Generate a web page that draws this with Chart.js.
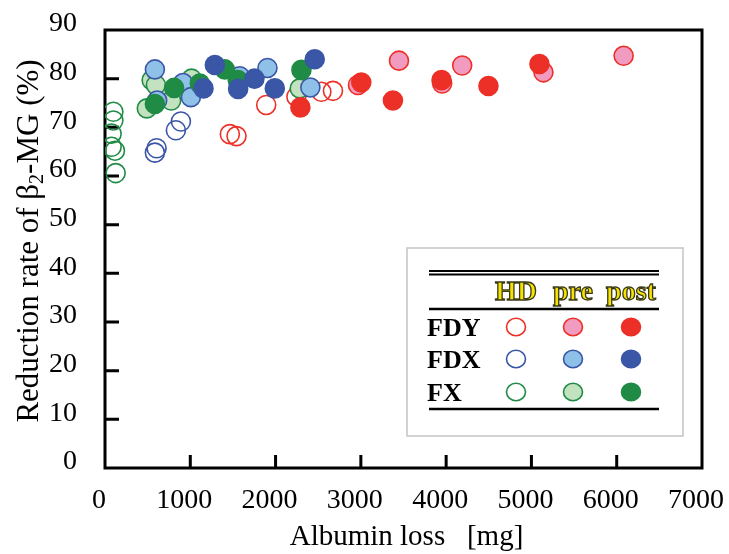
<!DOCTYPE html>
<html><head><meta charset="utf-8">
<script src="https://cdn.jsdelivr.net/npm/chart.js@4.4.1/dist/chart.umd.min.js"></script>
<style>html,body{margin:0;padding:0;background:#fff;}</style>
</head><body>
<canvas id="c" width="729" height="554"></canvas>
<script>
// ---- data ----
const xTickValues = [0,1000,2000,3000,4000,5000,6000,7000];
const yTickValues = [0,10,20,30,40,50,60,70,80,90];
const xTitle = 'Albumin loss   [mg]';
const yTitleParts = ['Reduction rate of \u03B2', '2', '-MG (%)'];
const legendHeader = ['HD','pre','post'];
const legendRows = ['FDY','FDX','FX'];

const fdyHD  = [{x:1890,y:74.6},{x:1464,y:68.6},{x:1542,y:68.2},{x:2244,y:76.3},{x:2537,y:77.3},{x:2673,y:77.5}];
const fdyPre = [{x:2966,y:78.7},{x:3447,y:83.7},{x:3953,y:79.0},{x:4188,y:82.7},{x:5141,y:81.3},{x:6081,y:84.7}];
const fdyPost= [{x:2291,y:74.1},{x:3005,y:79.2},{x:3376,y:75.5},{x:3946,y:79.7},{x:4496,y:78.5},{x:5094,y:83.0}];
const fdxHD  = [{x:890,y:71.2},{x:831,y:69.4},{x:605,y:65.7},{x:585,y:64.8}];
const fdxPre = [{x:585,y:81.9},{x:915,y:79.1},{x:1007,y:76.2},{x:1905,y:82.2},{x:2408,y:78.2},{x:1580,y:80.5},{x:612,y:75.5}];
const fdxPost= [{x:1288,y:82.8},{x:1155,y:78.0},{x:1561,y:77.9},{x:1752,y:80.0},{x:1991,y:78.0},{x:2459,y:84.0}];
const fxHD   = [{x:98,y:73.2},{x:98,y:71.4},{x:78,y:68.7},{x:78,y:66.0},{x:117,y:65.2},{x:125,y:60.6}];
const fxPre  = [{x:547,y:79.7},{x:597,y:78.7},{x:1015,y:80.0},{x:490,y:73.9},{x:776,y:75.5},{x:2283,y:78.0}];
const fxPost = [{x:810,y:78.1},{x:1112,y:79.0},{x:585,y:74.8},{x:1405,y:81.9},{x:2303,y:81.8},{x:1557,y:79.7}];

// ---- colours ----
const RED='#ec3027', PINK='#f29bc1', BLUE='#3a56a6', LBLUE='#8ec0e8', GREEN='#1f8b45', LGREEN='#c3e2bf';
const NONE='rgba(255,255,255,0)';

function ds(label,data,fill,border){
  return {label,data,backgroundColor:fill,borderColor:border,pointRadius:9.5,pointHoverRadius:9.5,pointBorderWidth:1.6,borderWidth:1.6};
}
// first dataset is drawn on top
const datasets = [
  ds('FDY post',fdyPost,RED,RED),
  ds('FDX post',fdxPost,BLUE,BLUE),
  ds('FX post',fxPost,GREEN,GREEN),
  ds('FDY pre',fdyPre,PINK,RED),
  ds('FDX pre',fdxPre,LBLUE,BLUE),
  ds('FX pre',fxPre,LGREEN,GREEN),
  ds('FDY HD',fdyHD,NONE,RED),
  ds('FDX HD',fdxHD,NONE,BLUE),
  ds('FX HD',fxHD,NONE,GREEN)
];
const legendMarks = [
  [[NONE,RED],[PINK,RED],[RED,RED]],
  [[NONE,BLUE],[LBLUE,BLUE],[BLUE,BLUE]],
  [[NONE,GREEN],[LGREEN,GREEN],[GREEN,GREEN]]
];

const SERIF = '"Liberation Serif","Times New Roman",serif';

const decor = {
  id:'decor',
  beforeDatasetsDraw(chart){
    const {ctx, chartArea:a, scales:{x,y}} = chart;
    ctx.save();
    ctx.strokeStyle='#000'; ctx.lineWidth=3;
    ctx.strokeRect(a.left,a.top,a.right-a.left,a.bottom-a.top);
    ctx.beginPath();
    xTickValues.forEach(v=>{ if(v>x.min && v<x.max){const p=x.getPixelForValue(v); ctx.moveTo(p,a.bottom); ctx.lineTo(p,a.bottom-13);} });
    yTickValues.forEach(v=>{ if(v>y.min && v<y.max){const p=y.getPixelForValue(v); ctx.moveTo(a.left,p); ctx.lineTo(a.left+14,p);} });
    ctx.stroke();
    // axis titles
    ctx.fillStyle='#000';
    ctx.font='29px '+SERIF;
    ctx.textAlign='center'; ctx.textBaseline='middle';
    ctx.fillText(xTitle,(a.left+a.right)/2+3,537);
    // y title with subscript
    ctx.translate(30,(a.top+a.bottom)/2-8);
    ctx.rotate(-Math.PI/2);
    ctx.textAlign='left'; ctx.textBaseline='middle';
    const big='31px '+SERIF, small='20px '+SERIF;
    ctx.font=big; const w0=ctx.measureText(yTitleParts[0]).width, w2=ctx.measureText(yTitleParts[2]).width;
    ctx.font=small; const w1=ctx.measureText(yTitleParts[1]).width;
    let sx=-(w0+w1+w2)/2;
    ctx.font=big; ctx.fillText(yTitleParts[0],sx,0); sx+=w0;
    ctx.font=small; ctx.fillText(yTitleParts[1],sx,8); sx+=w1;
    ctx.font=big; ctx.fillText(yTitleParts[2],sx,0);
    ctx.restore();
  },
  afterDatasetsDraw(chart){
    const ctx=chart.ctx;
    ctx.save();
    // box
    ctx.fillStyle='#fff'; ctx.fillRect(407,248,276,188);
    ctx.strokeStyle='#c4c4c4'; ctx.lineWidth=1.5; ctx.strokeRect(407,248,276,188);
    // rules
    ctx.strokeStyle='#000';
    ctx.lineWidth=2;
    [271,274.5].forEach(yy=>{ctx.beginPath();ctx.moveTo(429,yy);ctx.lineTo(659,yy);ctx.stroke();});
    ctx.lineWidth=2.5;
    [309,409].forEach(yy=>{ctx.beginPath();ctx.moveTo(429,yy);ctx.lineTo(659,yy);ctx.stroke();});
    // header
    const colX=[516,573,631];
    ctx.font='bold 28px '+SERIF; ctx.textAlign='center'; ctx.textBaseline='alphabetic';
    ctx.lineWidth=1.3; ctx.strokeStyle='#3a3a1a'; ctx.fillStyle='#f6e400';
    legendHeader.forEach((t,i)=>{ctx.fillText(t,colX[i],300); ctx.strokeText(t,colX[i],300);});
    // rows
    const rowY=[327,359,392];
    ctx.font='bold 26px '+SERIF; ctx.textAlign='left'; ctx.fillStyle='#000';
    legendRows.forEach((t,i)=>{ctx.fillText(t,427,rowY[i]+9);});
    legendMarks.forEach((row,i)=>row.forEach(([f,b],j)=>{
      ctx.beginPath(); ctx.ellipse(colX[j],rowY[i],9.5,8.7,0,0,Math.PI*2);
      ctx.fillStyle=f==NONE?'#fff':f; ctx.fill();
      ctx.lineWidth=1.6; ctx.strokeStyle=b; ctx.stroke();
    }));
    ctx.restore();
  }
};

new Chart(document.getElementById('c'),{
  type:'scatter',
  data:{datasets},
  options:{
    responsive:false, animation:false,
    layout:{padding:{left:0,top:30,right:27,bottom:0}},
    plugins:{legend:{display:false},tooltip:{enabled:false}},
    scales:{
      x:{type:'linear',min:0,max:7000,
        afterBuildTicks(s){s.ticks=xTickValues.map(v=>({value:v}));},
        afterFit(s){s.height=86; s.paddingLeft=0; s.paddingRight=0;},
        grid:{display:false},border:{display:false},
        ticks:{color:'#000',font:{family:SERIF,size:28},padding:8,labelOffset:-6,maxRotation:0,autoSkip:false,
          callback:(v)=>String(v)}},
      y:{type:'linear',min:0,max:90,
        afterBuildTicks(s){s.ticks=yTickValues.map(v=>({value:v}));},
        afterFit(s){s.width=105; s.paddingTop=0; s.paddingBottom=0;},
        grid:{display:false},border:{display:false},
        ticks:{color:'#000',font:{family:SERIF,size:28},padding:20,labelOffset:-6,autoSkip:false,
          callback:(v)=>String(v)}}
    }
  },
  plugins:[decor]
});
</script>
</body></html>
